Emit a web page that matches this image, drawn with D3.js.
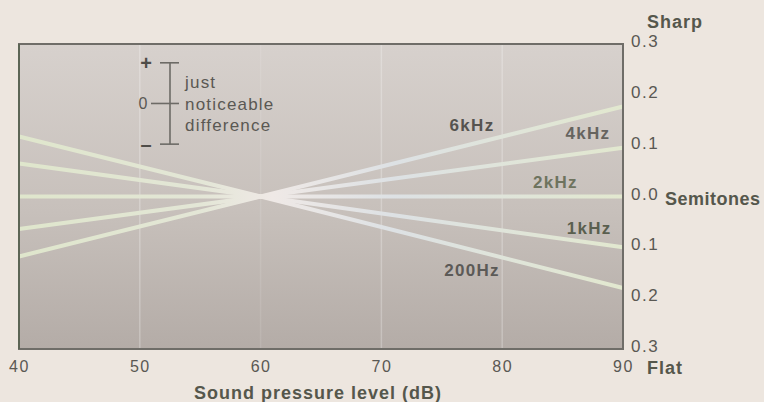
<!DOCTYPE html>
<html><head><meta charset="utf-8">
<script src="https://cdn.jsdelivr.net/npm/d3@7"></script>
<style>
html,body{margin:0;padding:0;background:#ede6df;}
svg{display:block;}
text{font-family:"Liberation Sans",Arial,sans-serif;}
</style></head>
<body><svg id="c" width="764" height="402"></svg>
<script>
// ---- data ----
const levels = [40, 60, 90];                       // dB SPL
const seriesNames = ["6kHz", "4kHz", "2kHz", "1kHz", "200Hz"];
const s6k   = [-0.118, 0, 0.177];
const s4k   = [-0.064, 0, 0.096];
const s2k   = [0, 0, 0];
const s1k   = [0.065, 0, -0.100];
const s200  = [0.118, 0, -0.180];
const seriesValues = [s6k, s4k, s2k, s1k, s200];
const labelDb  = [77.5, 87.1, 84.4, 87.2, 77.5];
const labelVal = [0.141, 0.125, 0.029, -0.062, -0.145];
const labelColors = ["#55534f", "#66645f", "#6e735e", "#5a5f4f", "#5c5a57"];
const xTicks = [40, 50, 60, 70, 80, 90];
const yTicks = [0.3, 0.2, 0.1, 0.0, -0.1, -0.2, -0.3];
const gridDb = [50, 60, 70, 80];
const jnd = {db: 52.5, center: 0.183, half: 0.080};

// ---- layout ----
const L = 19, R = 623, T = 44, B = 349;
const svg = d3.select("#c");
const x = d3.scaleLinear().domain([40, 90]).range([L, R]);
const y = d3.scaleLinear().domain([-0.3, 0.3]).range([B, T]);

const defs = svg.append("defs");
const bg = defs.append("linearGradient").attr("id","bg").attr("x1",0).attr("y1",0).attr("x2",0).attr("y2",1);
bg.append("stop").attr("offset","0%").attr("stop-color","#d7d1cd");
bg.append("stop").attr("offset","55%").attr("stop-color","#c7c0bb");
bg.append("stop").attr("offset","100%").attr("stop-color","#b4aca7");
const lg = defs.append("linearGradient").attr("id","ln").attr("gradientUnits","userSpaceOnUse")
  .attr("x1",L).attr("x2",R).attr("y1",0).attr("y2",0);
lg.append("stop").attr("offset","0%").attr("stop-color","#dfe6cc");
lg.append("stop").attr("offset","30%").attr("stop-color","#e3e6d6");
lg.append("stop").attr("offset","42%").attr("stop-color","#efe9e6");
lg.append("stop").attr("offset","62%").attr("stop-color","#dde1e4");
lg.append("stop").attr("offset","100%").attr("stop-color","#e2e8cf");

svg.append("rect").attr("x",L).attr("y",T).attr("width",R-L).attr("height",B-T).attr("fill","url(#bg)");

// grid
svg.append("g").selectAll("line").data(gridDb).join("line")
  .attr("x1",d=>x(d)).attr("x2",d=>x(d)).attr("y1",T).attr("y2",B)
  .attr("stroke","#ffffff").attr("stroke-opacity",d=>d===60?0.1:0.25).attr("stroke-width",1.5);

// lines
const line = d3.line().x((d,i)=>x(levels[i])).y(d=>y(d));
svg.append("g").selectAll("path").data(seriesValues).join("path")
  .attr("d",d=>line(d)).attr("fill","none").attr("stroke","url(#ln)")
  .attr("stroke-width",4).attr("stroke-linecap","butt");

// border
svg.append("rect").attr("x",L).attr("y",T).attr("width",R-L).attr("height",B-T)
  .attr("fill","none").attr("stroke","#6f6d68").attr("stroke-width",2);
svg.append("line").attr("x1",L).attr("x2",L).attr("y1",T).attr("y2",B).attr("stroke","#5c6555").attr("stroke-width",2);

// series labels
svg.append("g").selectAll("text").data(seriesNames).join("text")
  .attr("x",(d,i)=>x(labelDb[i])).attr("y",(d,i)=>y(labelVal[i])).attr("dy","0.35em")
  .attr("text-anchor","middle").attr("font-weight","bold").attr("font-size",17)
  .attr("letter-spacing",1.3)
  .attr("fill",(d,i)=>labelColors[i]).text(d=>d);

// JND annotation
const jx = x(jnd.db), jt = y(jnd.center + jnd.half), jb = y(jnd.center - jnd.half), jm = y(jnd.center);
const ja = svg.append("g").attr("stroke","#6d6b66").attr("stroke-width",1.6);
ja.append("line").attr("x1",jx).attr("x2",jx).attr("y1",jt).attr("y2",jb);
ja.append("line").attr("x1",jx-10).attr("x2",jx+9).attr("y1",jt).attr("y2",jt);
ja.append("line").attr("x1",jx-10).attr("x2",jx+9).attr("y1",jb).attr("y2",jb);
ja.append("line").attr("x1",jx-19).attr("x2",jx+9).attr("y1",jm).attr("y2",jm);
svg.append("text").attr("x",jx-24).attr("y",jt).attr("dy","0.35em").attr("text-anchor","middle")
  .attr("font-size",20).attr("font-weight","bold").attr("fill","#4f4d49").text("+");
svg.append("text").attr("x",jx-27).attr("y",jm).attr("dy","0.35em").attr("text-anchor","middle")
  .attr("font-size",16).attr("fill","#5a5853").text("0");
svg.append("text").attr("x",jx-24).attr("y",jb).attr("dy","0.35em").attr("text-anchor","middle")
  .attr("font-size",20).attr("font-weight","bold").attr("fill","#4f4d49").text("\u2013");
const jt2 = svg.append("text").attr("x",jx+15).attr("font-size",17).attr("letter-spacing",1.2).attr("fill","#5a5853");
["just","noticeable","difference"].forEach((t,i)=>{
  jt2.append("tspan").attr("x",jx+15).attr("y",jm - 21 + i*21.5).attr("dy","0.35em").text(t);
});

// x axis
const xa = svg.append("g").attr("transform",`translate(0,${B})`)
  .call(d3.axisBottom(x).tickValues(xTicks).tickSize(0).tickPadding(12).tickFormat(d3.format("d")));
xa.select(".domain").remove();
xa.selectAll("text").attr("font-family","Liberation Sans").attr("font-size",16).attr("letter-spacing",1.5).attr("fill","#5a5853");

// y axis
const ya = svg.append("g").attr("transform",`translate(${R},0)`)
  .call(d3.axisRight(y).tickValues(yTicks).tickSize(0).tickPadding(8)
    .tickFormat(d=>Math.abs(d).toFixed(1)));
ya.select(".domain").remove();
ya.selectAll("text").attr("font-family","Liberation Sans").attr("font-size",17).attr("letter-spacing",1.5).attr("fill","#5a5853").attr("dy","0.15em");

// axis titles
const tStyle = s => s.attr("font-weight","bold").attr("font-size",18).attr("letter-spacing",1).attr("fill","#55574c");
svg.append("text").attr("x",318).attr("y",393).attr("dy","0.35em").attr("text-anchor","middle").call(tStyle).text("Sound pressure level (dB)");
svg.append("text").attr("x",647).attr("y",22).attr("dy","0.35em").call(tStyle).text("Sharp");
svg.append("text").attr("x",647).attr("y",368).attr("dy","0.35em").call(tStyle).text("Flat");
svg.append("text").attr("x",665).attr("y",y(0)).attr("dy","0.45em").call(tStyle).attr("letter-spacing",0.5).text("Semitones");
</script></body></html>
